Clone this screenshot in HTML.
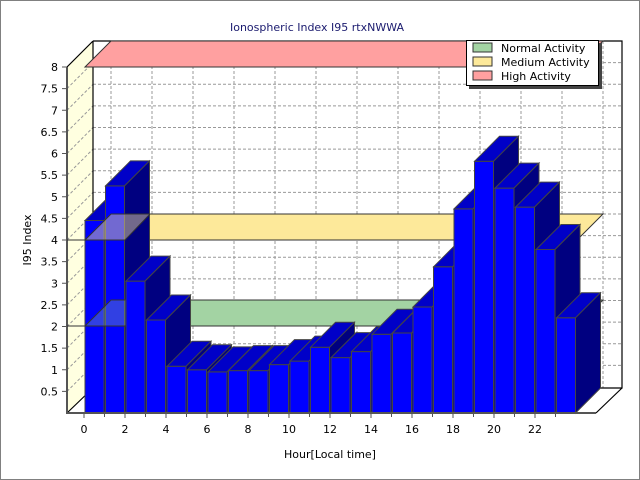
<!DOCTYPE html>
<html><head><meta charset="utf-8"><style>
html,body{margin:0;padding:0;background:#fff}
svg{display:block}
text{font-family:"DejaVu Sans","Liberation Sans",sans-serif;font-size:11px;fill:#000}
</style></head><body>
<svg width="640" height="480" viewBox="0 0 640 480" xmlns="http://www.w3.org/2000/svg">
<rect x="0.5" y="0.5" width="639" height="479" fill="#fff" stroke="#808080"/>
<text x="317" y="31" text-anchor="middle" style="fill:#1a1a6e">Ionospheric Index I95 rtxNWWA</text>
<!-- left wall -->
<polygon points="67,67 93,41 93,388 67,413" fill="#ffffe0"/>
<!-- floor -->
<polygon points="67,413 93,388 622,388 596,413" fill="#fff"/>
<!-- grid -->
<g stroke="#999" stroke-dasharray="3,2" stroke-width="1" fill="none">
<path d="M93,62.6H622M93,84.3H622M93,105.9H622M93,127.5H622M93,149.1H622M93,170.8H622M93,192.4H622M93,214H622M93,235.6H622M93,257.3H622M93,278.9H622M93,300.5H622M93,322.1H622M93,343.8H622M93,365.4H622"/>
<path d="M67,88.6L93,62.6M67,110.3L93,84.3M67,131.9L93,105.9M67,153.5L93,127.5M67,175.1L93,149.1M67,196.8L93,170.8M67,218.4L93,192.4M67,240L93,214M67,261.6L93,235.6M67,283.3L93,257.3M67,304.9L93,278.9M67,326.5L93,300.5M67,348.1L93,322.1M67,369.8L93,343.8M67,391.4L93,365.4"/>
<path d="M111,41V388M152,41V388M193,41V388M234,41V388M275,41V388M316,41V388M357,41V388M398,41V388M439,41V388M480,41V388M521,41V388M562,41V388M603,41V388"/>
</g>
<g stroke="#000" fill="none" stroke-width="1.2">
<path d="M93,41V388H622V41H93M67,67L93,41M67,413L93,388M596,413L622,388"/>
</g>
<!-- bands -->
<polygon points="85,67 111,41 603,41 577,67" fill="#ffa0a0" stroke="#333"/>
<polygon points="85,240 111,214 603,214 577,240" fill="#fde99a" stroke="#333"/>
<polygon points="85,326 111,300 603,300 577,326" fill="#a3d3a3" stroke="#333"/>
<!-- bars -->
<g stroke="#444" stroke-width="1">
<g transform="translate(85,0)"><rect x="0" y="220.5" width="19" height="192.5" fill="#0000ff"/><polygon points="0,220.5 25,195.5 44,195.5 19,220.5" fill="#0000c8"/><polygon points="19,220.5 44,195.5 44,388 19,413" fill="#000080"/></g>
<g transform="translate(105.5,0)"><rect x="0" y="185.9" width="19" height="227.1" fill="#0000ff"/><polygon points="0,185.9 25,160.9 44,160.9 19,185.9" fill="#0000c8"/><polygon points="19,185.9 44,160.9 44,388 19,413" fill="#000080"/></g>
</g>
<!-- translucent band overlay over first bars -->
<polygon points="85,240 111,214 150,214 125,240" fill="#fde99a" fill-opacity="0.45" stroke="#333"/>
<polygon points="85,326 111,300 150,300 125,326" fill="#a3d3a3" fill-opacity="0.3" stroke="#333"/>
<g stroke="#444" stroke-width="1">
<g transform="translate(126,0)"><rect x="0" y="281.1" width="19" height="131.9" fill="#0000ff"/><polygon points="0,281.1 25,256.1 44,256.1 19,281.1" fill="#0000c8"/><polygon points="19,281.1 44,256.1 44,388 19,413" fill="#000080"/></g>
<g transform="translate(146.5,0)"><rect x="0" y="320" width="19" height="93" fill="#0000ff"/><polygon points="0,320 25,295 44,295 19,320" fill="#0000c8"/><polygon points="19,320 44,295 44,388 19,413" fill="#000080"/></g>
<g transform="translate(167,0)"><rect x="0" y="366.3" width="19" height="46.7" fill="#0000ff"/><polygon points="0,366.3 25,341.3 44,341.3 19,366.3" fill="#0000c8"/><polygon points="19,366.3 44,341.3 44,388 19,413" fill="#000080"/></g>
<g transform="translate(187.5,0)"><rect x="0" y="369.8" width="19" height="43.2" fill="#0000ff"/><polygon points="0,369.8 25,344.8 44,344.8 19,369.8" fill="#0000c8"/><polygon points="19,369.8 44,344.8 44,388 19,413" fill="#000080"/></g>
<g transform="translate(208,0)"><rect x="0" y="371.9" width="19" height="41.1" fill="#0000ff"/><polygon points="0,371.9 25,346.9 44,346.9 19,371.9" fill="#0000c8"/><polygon points="19,371.9 44,346.9 44,388 19,413" fill="#000080"/></g>
<g transform="translate(228.5,0)"><rect x="0" y="370.6" width="19" height="42.4" fill="#0000ff"/><polygon points="0,370.6 25,345.6 44,345.6 19,370.6" fill="#0000c8"/><polygon points="19,370.6 44,345.6 44,388 19,413" fill="#000080"/></g>
<g transform="translate(249,0)"><rect x="0" y="370.6" width="19" height="42.4" fill="#0000ff"/><polygon points="0,370.6 25,345.6 44,345.6 19,370.6" fill="#0000c8"/><polygon points="19,370.6 44,345.6 44,388 19,413" fill="#000080"/></g>
<g transform="translate(269.5,0)"><rect x="0" y="364.6" width="19" height="48.4" fill="#0000ff"/><polygon points="0,364.6 25,339.6 44,339.6 19,364.6" fill="#0000c8"/><polygon points="19,364.6 44,339.6 44,388 19,413" fill="#000080"/></g>
<g transform="translate(290,0)"><rect x="0" y="361.1" width="19" height="51.9" fill="#0000ff"/><polygon points="0,361.1 25,336.1 44,336.1 19,361.1" fill="#0000c8"/><polygon points="19,361.1 44,336.1 44,388 19,413" fill="#000080"/></g>
<g transform="translate(310.5,0)"><rect x="0" y="347.3" width="19" height="65.7" fill="#0000ff"/><polygon points="0,347.3 25,322.3 44,322.3 19,347.3" fill="#0000c8"/><polygon points="19,347.3 44,322.3 44,388 19,413" fill="#000080"/></g>
<g transform="translate(331,0)"><rect x="0" y="357.6" width="19" height="55.4" fill="#0000ff"/><polygon points="0,357.6 25,332.6 44,332.6 19,357.6" fill="#0000c8"/><polygon points="19,357.6 44,332.6 44,388 19,413" fill="#000080"/></g>
<g transform="translate(351.5,0)"><rect x="0" y="351.6" width="19" height="61.4" fill="#0000ff"/><polygon points="0,351.6 25,326.6 44,326.6 19,351.6" fill="#0000c8"/><polygon points="19,351.6 44,326.6 44,388 19,413" fill="#000080"/></g>
<g transform="translate(372,0)"><rect x="0" y="334.3" width="19" height="78.7" fill="#0000ff"/><polygon points="0,334.3 25,309.3 44,309.3 19,334.3" fill="#0000c8"/><polygon points="19,334.3 44,309.3 44,388 19,413" fill="#000080"/></g>
<g transform="translate(392.5,0)"><rect x="0" y="333" width="19" height="80" fill="#0000ff"/><polygon points="0,333 25,308 44,308 19,333" fill="#0000c8"/><polygon points="19,333 44,308 44,388 19,413" fill="#000080"/></g>
<g transform="translate(413,0)"><rect x="0" y="307" width="19" height="106" fill="#0000ff"/><polygon points="0,307 25,282 44,282 19,307" fill="#0000c8"/><polygon points="19,307 44,282 44,388 19,413" fill="#000080"/></g>
<g transform="translate(433.5,0)"><rect x="0" y="266.8" width="19" height="146.2" fill="#0000ff"/><polygon points="0,266.8 25,241.8 44,241.8 19,266.8" fill="#0000c8"/><polygon points="19,266.8 44,241.8 44,388 19,413" fill="#000080"/></g>
<g transform="translate(454,0)"><rect x="0" y="208.9" width="19" height="204.1" fill="#0000ff"/><polygon points="0,208.9 25,183.9 44,183.9 19,208.9" fill="#0000c8"/><polygon points="19,208.9 44,183.9 44,388 19,413" fill="#000080"/></g>
<g transform="translate(474.5,0)"><rect x="0" y="161.3" width="19" height="251.7" fill="#0000ff"/><polygon points="0,161.3 25,136.3 44,136.3 19,161.3" fill="#0000c8"/><polygon points="19,161.3 44,136.3 44,388 19,413" fill="#000080"/></g>
<g transform="translate(495,0)"><rect x="0" y="188.1" width="19" height="224.9" fill="#0000ff"/><polygon points="0,188.1 25,163.1 44,163.1 19,188.1" fill="#0000c8"/><polygon points="19,188.1 44,163.1 44,388 19,413" fill="#000080"/></g>
<g transform="translate(515.5,0)"><rect x="0" y="207.1" width="19" height="205.9" fill="#0000ff"/><polygon points="0,207.1 25,182.1 44,182.1 19,207.1" fill="#0000c8"/><polygon points="19,207.1 44,182.1 44,388 19,413" fill="#000080"/></g>
<g transform="translate(536,0)"><rect x="0" y="249.5" width="19" height="163.5" fill="#0000ff"/><polygon points="0,249.5 25,224.5 44,224.5 19,249.5" fill="#0000c8"/><polygon points="19,249.5 44,224.5 44,388 19,413" fill="#000080"/></g>
<g transform="translate(556.5,0)"><rect x="0" y="317.8" width="19" height="95.2" fill="#0000ff"/><polygon points="0,317.8 25,292.8 44,292.8 19,317.8" fill="#0000c8"/><polygon points="19,317.8 44,292.8 44,388 19,413" fill="#000080"/></g>
</g>
<!-- front axes -->
<path d="M67,67V413H596" stroke="#555" stroke-width="2" fill="none"/>
<path d="M67,240H85M67,326H85" stroke="#333"/>
<g stroke="#555">
<path d="M62,67H67M62,88.6H67M62,110.3H67M62,131.9H67M62,153.5H67M62,175.1H67M62,196.8H67M62,218.4H67M62,240H67M62,261.6H67M62,283.3H67M62,304.9H67M62,326.5H67M62,348.1H67M62,369.8H67M62,391.4H67"/>
<path d="M84,413V418M104.5,413V417M125,413V418M145.5,413V417M166,413V418M186.5,413V417M207,413V418M227.5,413V417M248,413V418M268.5,413V417M289,413V418M309.5,413V417M330,413V418M350.5,413V417M371,413V418M391.5,413V417M412,413V418M432.5,413V417M453,413V418M473.5,413V417M494,413V418M514.5,413V417M535,413V418M555.5,413V417"/>
</g>
<g text-anchor="end">
<text x="58" y="71">8</text><text x="58" y="92.6">7.5</text><text x="58" y="114.3">7</text><text x="58" y="135.9">6.5</text><text x="58" y="157.5">6</text><text x="58" y="179.1">5.5</text><text x="58" y="200.8">5</text><text x="58" y="222.4">4.5</text><text x="58" y="244">4</text><text x="58" y="265.6">3.5</text><text x="58" y="287.3">3</text><text x="58" y="308.9">2.5</text><text x="58" y="330.5">2</text><text x="58" y="352.1">1.5</text><text x="58" y="373.8">1</text><text x="58" y="395.4">0.5</text>
</g>
<g text-anchor="middle">
<text x="84" y="433">0</text><text x="125" y="433">2</text><text x="166" y="433">4</text><text x="207" y="433">6</text><text x="248" y="433">8</text><text x="289" y="433">10</text><text x="330" y="433">12</text><text x="371" y="433">14</text><text x="412" y="433">16</text><text x="453" y="433">18</text><text x="494" y="433">20</text><text x="535" y="433">22</text>
<text x="330" y="458">Hour[Local time]</text>
<text transform="translate(31,240) rotate(-90)">I95 Index</text>
</g>
<!-- legend -->
<rect x="469" y="43" width="133" height="46" fill="#444"/>
<rect x="466.5" y="40.5" width="132" height="45" fill="#fff" stroke="#000"/>
<rect x="473" y="43" width="19" height="9" fill="#a3d3a3" stroke="#333"/>
<rect x="473" y="57" width="19" height="9" fill="#fde99a" stroke="#333"/>
<rect x="473" y="71" width="19" height="9" fill="#ffa0a0" stroke="#333"/>
<text x="501" y="52">Normal Activity</text>
<text x="501" y="66">Medium Activity</text>
<text x="501" y="80">High Activity</text>
</svg>
</body></html>
